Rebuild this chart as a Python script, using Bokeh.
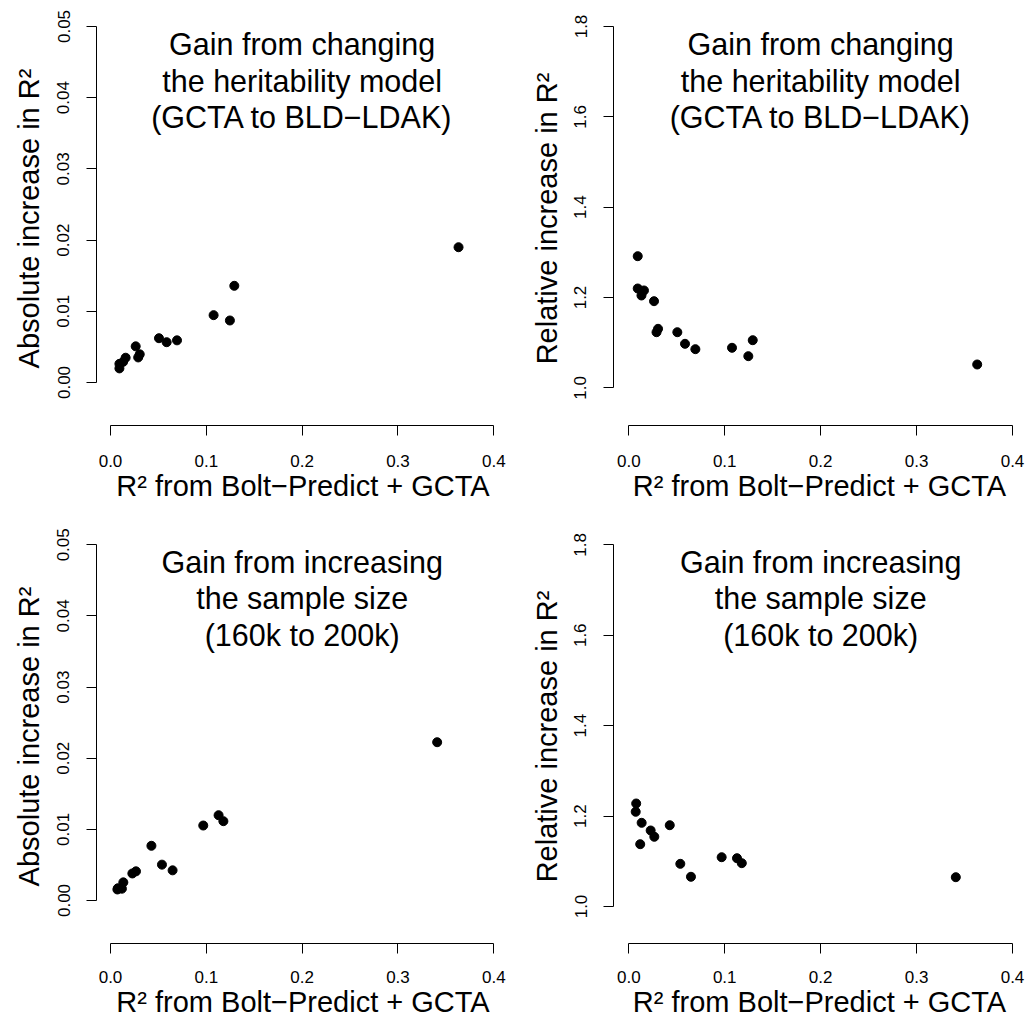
from bokeh.plotting import figure
from bokeh.models import Range1d, FixedTicker, NumeralTickFormatter, Label, LinearAxis
from bokeh.layouts import column, row
from bokeh.embed import file_html
from bokeh.resources import INLINE

FONT = "Liberation Sans"

# ---------------- data ----------------
r2_model = [0.3632, 0.1292, 0.1076, 0.1246, 0.0506, 0.0586, 0.0694,
            0.0263, 0.0305, 0.0289, 0.0158, 0.0132, 0.0093, 0.0093]
abs_gain_model = [0.0190, 0.01358, 0.00946, 0.00871, 0.00622, 0.00566, 0.00592,
                  0.00508, 0.00396, 0.00352, 0.00348, 0.00290, 0.00262, 0.00198]
rel_gain_model = [1.0516, 1.1054, 1.0886, 1.0700, 1.1231, 1.0974, 1.0855,
                  1.1918, 1.1306, 1.1231, 1.2155, 1.2044, 1.2914, 1.2199]

r2_sample = [0.3409, 0.1178, 0.1128, 0.0968, 0.0427, 0.0537, 0.0648,
             0.0266, 0.0228, 0.0134, 0.0119, 0.0077, 0.0072]
abs_gain_sample = [0.02225, 0.01115, 0.01199, 0.01054, 0.00769, 0.00504, 0.00424,
                   0.00410, 0.00380, 0.00255, 0.00166, 0.00172, 0.00155]
rel_gain_sample = [1.0648, 1.0958, 1.1068, 1.1090, 1.1798, 1.0944, 1.0657,
                   1.1542, 1.1681, 1.1851, 1.1378, 1.2278, 1.2095]

x_ticks = [0.0, 0.1, 0.2, 0.3, 0.4]
abs_ticks = [0.00, 0.01, 0.02, 0.03, 0.04, 0.05]
rel_ticks = [1.0, 1.2, 1.4, 1.6, 1.8]

title_model = ["Gain from changing", "the heritability model", "(GCTA to BLD\u2212LDAK)"]
title_sample = ["Gain from increasing", "the sample size", "(160k to 200k)"]
xlabel = "R\u00b2 from Bolt\u2212Predict + GCTA"
ylabel_abs = "Absolute increase in R\u00b2"
ylabel_rel = "Relative increase in R\u00b2"


def lin(v_a, s_a, v_b, s_b):
    k = (s_b - s_a) / (v_b - v_a)
    return lambda s: v_a + (s - s_a) / k


def panel(xs, ys, fx0, fy0, w, h, mbl, mbr, mbt, mbb, xcal, ycal,
          yticks, yfmt, title_lines, ylab, title_mid, ylab_standoff,
          xtick_standoff):
    xd = lin(*xcal)
    yd = lin(*ycal)
    fl, fr = fx0 + mbl, fx0 + w - mbr
    ft, fb = fy0 + mbt, fy0 + h - mbb
    p = figure(width=w, height=h,
               x_range=Range1d(xd(fl), xd(fr)), y_range=Range1d(yd(fb), yd(ft)),
               output_backend="svg", toolbar_location=None,
               min_border_left=mbl, min_border_right=mbr,
               min_border_top=mbt, min_border_bottom=mbb)
    p.outline_line_color = None
    p.grid.visible = False
    p.background_fill_color = "white"
    p.border_fill_color = "white"

    p.scatter(xs, ys, size=9, color="black")

    for ax, ticks, fmt in ((p.xaxis, x_ticks, "0.0"), (p.yaxis, yticks, yfmt)):
        ax.ticker = FixedTicker(ticks=ticks)
        ax.bounds = (ticks[0], ticks[-1])
        ax.formatter = NumeralTickFormatter(format=fmt)
        ax.axis_line_color = "black"
        ax.axis_line_width = 1
        ax.major_tick_line_color = "black"
        ax.major_tick_in = 0
        ax.major_tick_out = 10
        ax.minor_tick_line_color = None
        ax.major_label_text_font = FONT
        ax.major_label_text_font_size = "17px"
        ax.major_label_text_color = "black"
    p.xaxis.major_label_standoff = xtick_standoff
    p.yaxis.major_label_standoff = 17
    p.yaxis.major_label_orientation = "vertical"

    # x-axis title on the x axis itself
    p.xaxis.axis_label = xlabel
    p.xaxis.axis_label_standoff = 0
    p.xaxis.axis_label_text_font = FONT
    p.xaxis.axis_label_text_font_size = "29px"
    p.xaxis.axis_label_text_font_style = "normal"
    p.xaxis.axis_label_text_color = "black"

    # y-axis title on a bare extra axis so that it is centred on the plot region
    yt = LinearAxis(ticker=FixedTicker(ticks=[]), axis_line_color=None,
                    major_tick_line_color=None, minor_tick_line_color=None,
                    major_tick_out=0, major_tick_in=0, major_label_standoff=0,
                    axis_label=ylab, axis_label_standoff=ylab_standoff,
                    axis_label_text_font=FONT, axis_label_text_font_size="29px",
                    axis_label_text_font_style="normal", axis_label_text_color="black")
    p.add_layout(yt, "left")

    xmid = (x_ticks[0] + x_ticks[-1]) / 2
    for i, line in enumerate(title_lines):
        p.add_layout(Label(x=xmid, y=yd(title_mid + i * 36.7), text=line,
                           text_align="center", text_baseline="middle",
                           text_font=FONT, text_font_size="30.5px", text_color="black"))
    return p


# column 1: x 0..513, column 2: 513..1026 ; row 1: y 0..518, row 2: 518..1022
XC1 = (0.0, 110.0, 0.4, 493.3)
XC2 = (0.0, 628.3, 0.4, 1012.0)

p1 = panel(r2_model, abs_gain_model, 0, 0, 513, 518, 96, 4, 11, 93,
           XC1, (0.05, 26.0, 0.0, 382.0), abs_ticks, "0.00", title_model, ylabel_abs,
           43.5, 10, 19)
p2 = panel(r2_model, rel_gain_model, 513, 0, 513, 518, 100, 1, 11, 93,
           XC2, (1.8, 26.0, 1.0, 387.3), rel_ticks, "0.0", title_model, ylabel_rel,
           43.5, 9, 19)
p3 = panel(r2_sample, abs_gain_sample, 0, 518, 513, 504, 96, 4, 11, 79,
           XC1, (0.05, 544.3, 0.0, 900.0), abs_ticks, "0.00", title_sample, ylabel_abs,
           561.2, 10, 17)
p4 = panel(r2_sample, rel_gain_sample, 513, 518, 513, 504, 100, 1, 11, 79,
           XC2, (1.8, 544.3, 1.0, 906.0), rel_ticks, "0.0", title_sample, ylabel_rel,
           561.2, 9, 17)

layout = column(row(p1, p2), row(p3, p4))
open("out.html", "w").write(file_html(layout, INLINE))
